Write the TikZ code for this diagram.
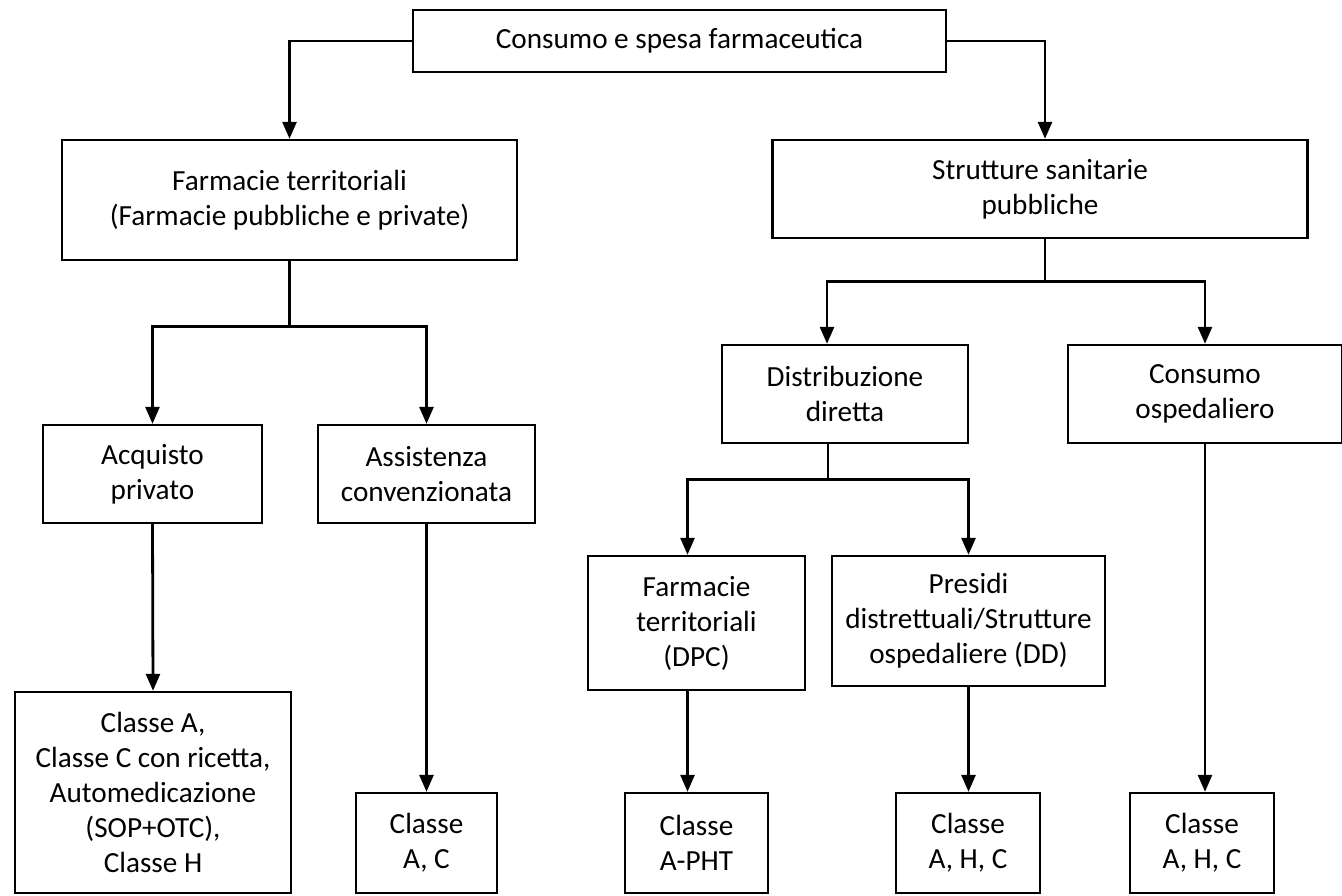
\documentclass[tikz,border=0pt]{standalone}
\usepackage{fontspec}
\setmainfont{Carlito}
\usetikzlibrary{arrows.meta}

\begin{document}
\begin{tikzpicture}[x = 0.5pt, y = -0.5pt,
    box/.style 2 args = {draw, line width = 1.2pt, minimum width = #1*0.5pt, minimum height = #2*0.5pt,
      inner sep = 0pt, align = center, font = \fontsize{14.6}{17.5}\selectfont},
    link/.style = {line width = 1.4pt},
    arr/.style = {link, -{Triangle[length = 8.5pt, width = 7pt]}}]
  \useasboundingbox (0,0) rectangle (1342,895);

  \node[box = {533}{62}] (top) at (679.5,41) {Consumo e spesa farmaceutica};

  \node[box = {455}{120}] (ft) at (289.5,200) {Farmacie territoriali\\(Farmacie pubbliche e private)};
  \node[box = {535}{98}] (ssp) at (1040,189) {Strutture sanitarie\\pubbliche};

  \node[box = {219}{98}] (ap) at (152.5,474) {Acquisto\\privato};
  \node[box = {217}{98}] (ac) at (426.5,474) {Assistenza\\convenzionata};
  \node[box = {246}{98}] (dd) at (845,394) {Distribuzione\\diretta};
  \node[box = {274}{98}] (co) at (1205,394) {Consumo\\ospedaliero};

  \node[box = {217}{134}] (dpc) at (696.5,623) {Farmacie\\territoriali\\(DPC)};
  \node[box = {273}{130}] (pd) at (968.5,621) {Presidi\\distrettuali/Strutture\\ospedaliere (DD)};

  \node[box = {276}{201}] (ca) at (153,792.5) {Classe A,\\Classe C con ricetta,\\Automedicazione\\(SOP+OTC),\\Classe H};
  \node[box = {141}{100}] (cac) at (426.5,843) {Classe\\A, C};
  \node[box = {143}{100}] (cpht) at (696.5,843) {Classe\\A-PHT};
  \node[box = {144}{100}] (cahc) at (968,843) {Classe\\A, H, C};
  \node[box = {144}{100}] (cohc) at (1202,843) {Classe\\A, H, C};

  \draw[arr] (top.west) -| (ft.north);
  \draw[arr] (top.east) -| ([xshift = 2.5pt]ssp.north);

  \draw[link] (ft.south) -- ++(0,65) coordinate (fb);
  \draw[arr] (fb) -| (ap.north);
  \draw[arr] (fb) -| (ac.north);
  \draw[arr] (ap.south) -- (ca.north);
  \draw[arr] (ac.south) -- (cac.north);

  \draw[link] ([xshift = 2.5pt]ssp.south) -- ++(0,42) coordinate (sb);
  \draw[arr] (sb) -| ([xshift = -9pt]dd.north);
  \draw[arr] (sb) -| (co.north);

  \draw[link] ([xshift = -8.5pt]dd.south) -- ++(0,35) coordinate (db);
  \draw[arr] (db) -| ([xshift = -4.5pt]dpc.north);
  \draw[arr] (db) -| (pd.north);
  \draw[arr] ([xshift = -4.5pt]dpc.south) -- ([xshift = -4.5pt]dpc.south |- cpht.north);
  \draw[arr] (pd.south) -- (pd.south |- cahc.north);
  \draw[arr] (co.south) -- (co.south |- cohc.north);
\end{tikzpicture}
\end{document}
